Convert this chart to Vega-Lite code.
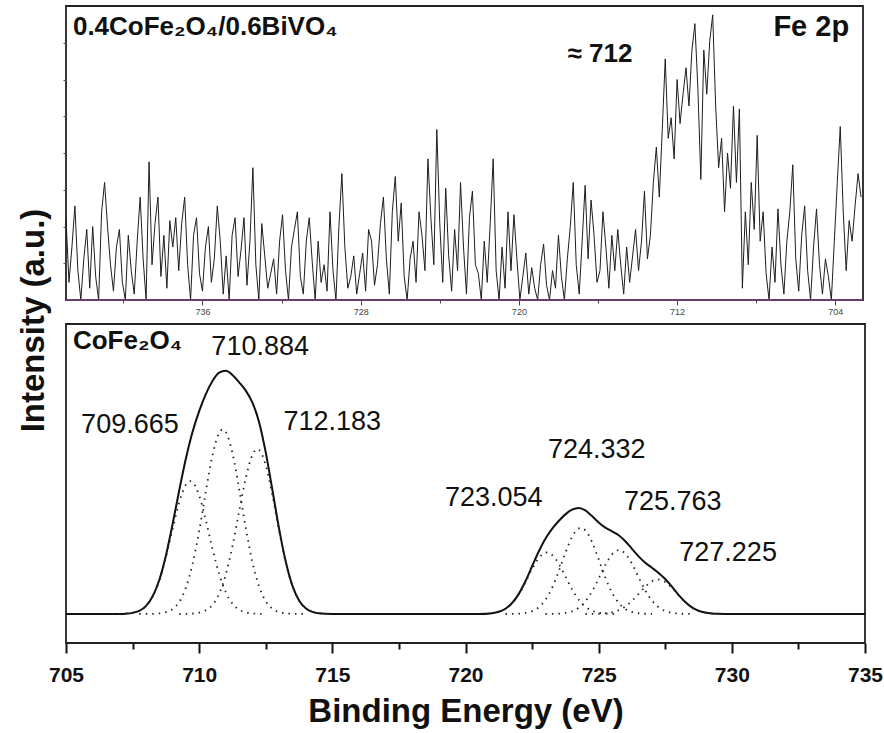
{
 "$schema": "https://vega.github.io/schema/vega-lite/v6.json",
 "background": "white",
 "padding": {"left": 16, "top": 5, "right": 14, "bottom": 4},
 "spacing": 24,
 "bounds": "flush",
 "config": {"font": "Liberation Sans", "view": {"stroke": "#222", "strokeWidth": 1.8}, "axis": {"grid": false}},
 "datasets": {
  "raw": [
   {"e":742.9,"v":28},{"e":742.75,"v":6},{"e":742.6,"v":18},{"e":742.45,"v":32},{"e":742.3,"v":10},{"e":742.15,"v":0},{"e":742.0,"v":14},{"e":741.85,"v":24},{"e":741.7,"v":4},{"e":741.55,"v":25},
   {"e":741.4,"v":8},{"e":741.25,"v":0},{"e":741.1,"v":30},{"e":740.95,"v":40},{"e":740.8,"v":25},{"e":740.65,"v":12},{"e":740.5,"v":3},{"e":740.35,"v":18},{"e":740.2,"v":24},{"e":740.05,"v":6},
   {"e":739.9,"v":0},{"e":739.75,"v":22},{"e":739.6,"v":10},{"e":739.45,"v":2},{"e":739.3,"v":20},{"e":739.15,"v":35},{"e":739.0,"v":14},{"e":738.85,"v":0},{"e":738.7,"v":47},{"e":738.55,"v":12},
   {"e":738.4,"v":26},{"e":738.25,"v":35},{"e":738.1,"v":8},{"e":737.95,"v":22},{"e":737.8,"v":4},{"e":737.65,"v":27},{"e":737.5,"v":18},{"e":737.35,"v":28},{"e":737.2,"v":10},{"e":737.05,"v":26},
   {"e":736.9,"v":35},{"e":736.75,"v":12},{"e":736.6,"v":0},{"e":736.45,"v":22},{"e":736.3,"v":28},{"e":736.15,"v":9},{"e":736.0,"v":3},{"e":735.85,"v":18},{"e":735.7,"v":25},{"e":735.55,"v":6},
   {"e":735.4,"v":14},{"e":735.25,"v":32},{"e":735.1,"v":20},{"e":734.95,"v":2},{"e":734.8,"v":15},{"e":734.65,"v":0},{"e":734.5,"v":22},{"e":734.35,"v":28},{"e":734.2,"v":8},{"e":734.05,"v":17},
   {"e":733.9,"v":28},{"e":733.75,"v":5},{"e":733.6,"v":20},{"e":733.45,"v":45},{"e":733.3,"v":12},{"e":733.15,"v":0},{"e":733.0,"v":26},{"e":732.85,"v":15},{"e":732.7,"v":4},{"e":732.55,"v":9},
   {"e":732.4,"v":14},{"e":732.25,"v":2},{"e":732.1,"v":20},{"e":731.95,"v":29},{"e":731.8,"v":10},{"e":731.65,"v":0},{"e":731.5,"v":18},{"e":731.35,"v":24},{"e":731.2,"v":30},{"e":731.05,"v":8},
   {"e":730.9,"v":2},{"e":730.75,"v":20},{"e":730.6,"v":28},{"e":730.45,"v":13},{"e":730.3,"v":0},{"e":730.15,"v":20},{"e":730.0,"v":6},{"e":729.85,"v":12},{"e":729.7,"v":3},{"e":729.55,"v":30},
   {"e":729.4,"v":10},{"e":729.25,"v":0},{"e":729.1,"v":25},{"e":728.95,"v":43},{"e":728.8,"v":18},{"e":728.65,"v":4},{"e":728.5,"v":8},{"e":728.35,"v":15},{"e":728.2,"v":2},{"e":728.05,"v":9},
   {"e":727.9,"v":16},{"e":727.75,"v":3},{"e":727.6,"v":24},{"e":727.45,"v":20},{"e":727.3,"v":5},{"e":727.15,"v":12},{"e":727.0,"v":26},{"e":726.85,"v":35},{"e":726.7,"v":14},{"e":726.55,"v":2},
   {"e":726.4,"v":30},{"e":726.25,"v":42},{"e":726.1,"v":20},{"e":725.95,"v":33},{"e":725.8,"v":8},{"e":725.65,"v":0},{"e":725.5,"v":14},{"e":725.35,"v":20},{"e":725.2,"v":6},{"e":725.05,"v":30},
   {"e":724.9,"v":22},{"e":724.75,"v":10},{"e":724.6,"v":48},{"e":724.45,"v":28},{"e":724.3,"v":12},{"e":724.15,"v":58},{"e":724.0,"v":26},{"e":723.85,"v":6},{"e":723.7,"v":38},{"e":723.55,"v":15},
   {"e":723.4,"v":3},{"e":723.25,"v":24},{"e":723.1,"v":10},{"e":722.95,"v":40},{"e":722.8,"v":18},{"e":722.65,"v":2},{"e":722.5,"v":28},{"e":722.35,"v":37},{"e":722.2,"v":12},{"e":722.05,"v":9},
   {"e":721.9,"v":0},{"e":721.75,"v":20},{"e":721.6,"v":6},{"e":721.45,"v":26},{"e":721.3,"v":48},{"e":721.15,"v":10},{"e":721.0,"v":0},{"e":720.85,"v":18},{"e":720.7,"v":4},{"e":720.55,"v":30},
   {"e":720.4,"v":10},{"e":720.25,"v":29},{"e":720.1,"v":14},{"e":719.95,"v":0},{"e":719.8,"v":8},{"e":719.65,"v":16},{"e":719.5,"v":2},{"e":719.35,"v":11},{"e":719.2,"v":4},{"e":719.05,"v":0},
   {"e":718.9,"v":12},{"e":718.75,"v":19},{"e":718.6,"v":5},{"e":718.45,"v":0},{"e":718.3,"v":10},{"e":718.15,"v":4},{"e":718.0,"v":22},{"e":717.85,"v":8},{"e":717.7,"v":0},{"e":717.55,"v":14},
   {"e":717.4,"v":25},{"e":717.25,"v":40},{"e":717.1,"v":12},{"e":716.95,"v":2},{"e":716.8,"v":20},{"e":716.65,"v":39},{"e":716.5,"v":14},{"e":716.35,"v":34},{"e":716.2,"v":22},{"e":716.05,"v":6},
   {"e":715.9,"v":10},{"e":715.75,"v":30},{"e":715.6,"v":18},{"e":715.45,"v":4},{"e":715.3,"v":22},{"e":715.15,"v":10},{"e":715.0,"v":24},{"e":714.85,"v":12},{"e":714.7,"v":2},{"e":714.55,"v":18},
   {"e":714.4,"v":6},{"e":714.25,"v":15},{"e":714.1,"v":24},{"e":713.95,"v":10},{"e":713.8,"v":20},{"e":713.65,"v":37},{"e":713.5,"v":14},{"e":713.35,"v":22},{"e":713.2,"v":40},{"e":713.05,"v":52},
   {"e":712.9,"v":35},{"e":712.75,"v":58},{"e":712.6,"v":82},{"e":712.45,"v":55},{"e":712.3,"v":62},{"e":712.15,"v":48},{"e":712.0,"v":75},{"e":711.85,"v":60},{"e":711.7,"v":70},{"e":711.55,"v":79},
   {"e":711.4,"v":66},{"e":711.25,"v":85},{"e":711.1,"v":94},{"e":710.95,"v":72},{"e":710.8,"v":41},{"e":710.65,"v":85},{"e":710.5,"v":70},{"e":710.35,"v":88},{"e":710.2,"v":97},{"e":710.05,"v":66},
   {"e":709.9,"v":45},{"e":709.75,"v":55},{"e":709.6,"v":30},{"e":709.45,"v":50},{"e":709.3,"v":38},{"e":709.15,"v":66},{"e":709.0,"v":40},{"e":708.85,"v":65},{"e":708.7,"v":4},{"e":708.55,"v":30},
   {"e":708.4,"v":12},{"e":708.25,"v":40},{"e":708.1,"v":24},{"e":707.95,"v":56},{"e":707.8,"v":20},{"e":707.65,"v":30},{"e":707.5,"v":9},{"e":707.35,"v":0},{"e":707.2,"v":18},{"e":707.05,"v":6},
   {"e":706.9,"v":31},{"e":706.75,"v":12},{"e":706.6,"v":2},{"e":706.45,"v":20},{"e":706.3,"v":30},{"e":706.15,"v":46},{"e":706.0,"v":14},{"e":705.85,"v":3},{"e":705.7,"v":22},{"e":705.55,"v":32},
   {"e":705.4,"v":10},{"e":705.25,"v":0},{"e":705.1,"v":18},{"e":704.95,"v":31},{"e":704.8,"v":12},{"e":704.65,"v":2},{"e":704.5,"v":14},{"e":704.35,"v":8},{"e":704.2,"v":0},{"e":704.05,"v":20},
   {"e":703.9,"v":40},{"e":703.75,"v":59},{"e":703.6,"v":30},{"e":703.45,"v":10},{"e":703.3,"v":27},{"e":703.15,"v":20},{"e":703.0,"v":32},{"e":702.85,"v":43},{"e":702.7,"v":35}
  ],
  "base": [{"e":702.6,"v":0},{"e":742.9,"v":0}],
  "env": [
   {"e":705,"v":0},{"e":706,"v":0},{"e":707,"v":0.04},{"e":707.25,"v":0.14},{"e":707.5,"v":0.45},{"e":707.75,"v":1.28},{"e":708,"v":3.2},{"e":708.25,"v":7.1},{"e":708.5,"v":13.7},{"e":708.75,"v":23.7},
   {"e":709,"v":36.4},{"e":709.25,"v":50.2},{"e":709.5,"v":63.1},{"e":709.75,"v":74.0},{"e":710,"v":82.5},{"e":710.25,"v":89.4},{"e":710.5,"v":94.7},{"e":710.75,"v":98.1},{"e":711,"v":98.9},{"e":711.25,"v":97.2},
   {"e":711.5,"v":94.2},{"e":711.75,"v":90.8},{"e":712,"v":85.9},{"e":712.25,"v":78.0},{"e":712.5,"v":65.7},{"e":712.75,"v":50.4},{"e":713,"v":34.7},{"e":713.25,"v":21.3},{"e":713.5,"v":11.5},{"e":713.75,"v":5.5},
   {"e":714,"v":2.3},{"e":714.25,"v":0.86},{"e":714.5,"v":0.28},{"e":714.75,"v":0.08},{"e":715,"v":0.02},{"e":716,"v":0},{"e":718,"v":0},{"e":720,"v":0},{"e":720.5,"v":0},
   {"e":721,"v":0.34},{"e":721.25,"v":0.9},{"e":721.5,"v":2.14},{"e":721.75,"v":4.45},{"e":722,"v":8.18},{"e":722.25,"v":13.3},{"e":722.5,"v":19.4},{"e":722.75,"v":25.4},{"e":723,"v":30.6},{"e":723.25,"v":34.6},
   {"e":723.5,"v":37.8},{"e":723.75,"v":40.5},{"e":724,"v":42.4},{"e":724.25,"v":43.1},{"e":724.5,"v":42.1},{"e":724.75,"v":39.8},{"e":725,"v":37.2},{"e":725.25,"v":35.1},{"e":725.5,"v":33.6},{"e":725.75,"v":32.0},
   {"e":726,"v":29.6},{"e":726.25,"v":26.5},{"e":726.5,"v":23.4},{"e":726.75,"v":20.8},{"e":727,"v":18.8},{"e":727.25,"v":16.7},{"e":727.5,"v":14.2},{"e":727.75,"v":11.1},{"e":728,"v":7.75},{"e":728.25,"v":4.84},
   {"e":728.5,"v":2.67},{"e":728.75,"v":1.3},{"e":729,"v":0.56},{"e":729.25,"v":0.21},{"e":729.5,"v":0.07},{"e":729.75,"v":0.02},{"e":730,"v":0},{"e":732,"v":0},{"e":735,"v":0}
  ],
  "comp": [
   {"c":"A1","e":706.75,"v":0},{"c":"A1","e":707,"v":0.04},{"c":"A1","e":707.25,"v":0.14},{"c":"A1","e":707.5,"v":0.45},{"c":"A1","e":707.75,"v":1.28},{"c":"A1","e":708,"v":3.19},{"c":"A1","e":708.25,"v":7.0},{"c":"A1","e":708.5,"v":13.5},{"c":"A1","e":708.75,"v":23.0},{"c":"A1","e":709,"v":34.4},{"c":"A1","e":709.25,"v":45.3},{"c":"A1","e":709.5,"v":52.5},{"c":"A1","e":709.665,"v":54},{"c":"A1","e":709.75,"v":53.6},{"c":"A1","e":710,"v":48.2},{"c":"A1","e":710.25,"v":38.1},{"c":"A1","e":710.5,"v":26.5},{"c":"A1","e":710.75,"v":16.3},{"c":"A1","e":711,"v":8.8},{"c":"A1","e":711.25,"v":4.2},{"c":"A1","e":711.5,"v":1.74},{"c":"A1","e":711.75,"v":0.64},{"c":"A1","e":712,"v":0.21},{"c":"A1","e":712.25,"v":0.06},{"c":"A1","e":712.5,"v":0},
   {"c":"A2","e":707.75,"v":0},{"c":"A2","e":708,"v":0.02},{"c":"A2","e":708.25,"v":0.06},{"c":"A2","e":708.5,"v":0.23},{"c":"A2","e":708.75,"v":0.72},{"c":"A2","e":709,"v":2.0},{"c":"A2","e":709.25,"v":4.9},{"c":"A2","e":709.5,"v":10.6},{"c":"A2","e":709.75,"v":20.2},{"c":"A2","e":710,"v":33.8},{"c":"A2","e":710.25,"v":49.8},{"c":"A2","e":710.5,"v":64.5},{"c":"A2","e":710.75,"v":73.6},{"c":"A2","e":710.884,"v":75},{"c":"A2","e":711,"v":74.0},{"c":"A2","e":711.25,"v":65.4},{"c":"A2","e":711.5,"v":50.9},{"c":"A2","e":711.75,"v":34.9},{"c":"A2","e":712,"v":21.0},{"c":"A2","e":712.25,"v":11.2},{"c":"A2","e":712.5,"v":5.2},{"c":"A2","e":712.75,"v":2.1},{"c":"A2","e":713,"v":0.78},{"c":"A2","e":713.25,"v":0.25},{"c":"A2","e":713.5,"v":0.07},{"c":"A2","e":714,"v":0},
   {"c":"A3","e":709.25,"v":0},{"c":"A3","e":709.5,"v":0.04},{"c":"A3","e":709.75,"v":0.16},{"c":"A3","e":710,"v":0.52},{"c":"A3","e":710.25,"v":1.48},{"c":"A3","e":710.5,"v":3.7},{"c":"A3","e":710.75,"v":8.2},{"c":"A3","e":711,"v":16.1},{"c":"A3","e":711.25,"v":27.6},{"c":"A3","e":711.5,"v":41.6},{"c":"A3","e":711.75,"v":55.3},{"c":"A3","e":712,"v":64.7},{"c":"A3","e":712.183,"v":67},{"c":"A3","e":712.25,"v":66.7},{"c":"A3","e":712.5,"v":60.5},{"c":"A3","e":712.75,"v":48.3},{"c":"A3","e":713,"v":33.9},{"c":"A3","e":713.25,"v":21.0},{"c":"A3","e":713.5,"v":11.4},{"c":"A3","e":713.75,"v":5.5},{"c":"A3","e":714,"v":2.3},{"c":"A3","e":714.25,"v":0.86},{"c":"A3","e":714.5,"v":0.28},{"c":"A3","e":714.75,"v":0.08},{"c":"A3","e":715,"v":0},
   {"c":"B1","e":720.75,"v":0},{"c":"B1","e":721,"v":0.34},{"c":"B1","e":721.25,"v":0.9},{"c":"B1","e":721.5,"v":2.13},{"c":"B1","e":721.75,"v":4.41},{"c":"B1","e":722,"v":8.04},{"c":"B1","e":722.25,"v":12.9},{"c":"B1","e":722.5,"v":18.3},{"c":"B1","e":722.75,"v":22.7},{"c":"B1","e":723,"v":24.9},{"c":"B1","e":723.054,"v":25},{"c":"B1","e":723.25,"v":24.0},{"c":"B1","e":723.5,"v":20.4},{"c":"B1","e":723.75,"v":15.3},{"c":"B1","e":724,"v":10.0},{"c":"B1","e":724.25,"v":5.8},{"c":"B1","e":724.5,"v":2.96},{"c":"B1","e":724.75,"v":1.33},{"c":"B1","e":725,"v":0.52},{"c":"B1","e":725.25,"v":0.18},{"c":"B1","e":725.5,"v":0.06},{"c":"B1","e":725.75,"v":0},
   {"c":"B2","e":721.5,"v":0},{"c":"B2","e":721.75,"v":0.04},{"c":"B2","e":722,"v":0.14},{"c":"B2","e":722.25,"v":0.42},{"c":"B2","e":722.5,"v":1.14},{"c":"B2","e":722.75,"v":2.72},{"c":"B2","e":723,"v":5.73},{"c":"B2","e":723.25,"v":10.6},{"c":"B2","e":723.5,"v":17.3},{"c":"B2","e":723.75,"v":24.8},{"c":"B2","e":724,"v":31.3},{"c":"B2","e":724.25,"v":34.8},{"c":"B2","e":724.332,"v":35},{"c":"B2","e":724.5,"v":34.0},{"c":"B2","e":724.75,"v":29.3},{"c":"B2","e":725,"v":22.2},{"c":"B2","e":725.25,"v":14.8},{"c":"B2","e":725.5,"v":8.7},{"c":"B2","e":725.75,"v":4.5},{"c":"B2","e":726,"v":2.05},{"c":"B2","e":726.25,"v":0.82},{"c":"B2","e":726.5,"v":0.29},{"c":"B2","e":726.75,"v":0.09},{"c":"B2","e":727,"v":0},
   {"c":"B3","e":723,"v":0},{"c":"B3","e":723.25,"v":0.04},{"c":"B3","e":723.5,"v":0.14},{"c":"B3","e":723.75,"v":0.42},{"c":"B3","e":724,"v":1.09},{"c":"B3","e":724.25,"v":2.51},{"c":"B3","e":724.5,"v":5.11},{"c":"B3","e":724.75,"v":9.13},{"c":"B3","e":725,"v":14.4},{"c":"B3","e":725.25,"v":19.9},{"c":"B3","e":725.5,"v":24.2},{"c":"B3","e":725.763,"v":26},{"c":"B3","e":726,"v":24.5},{"c":"B3","e":726.25,"v":20.4},{"c":"B3","e":726.5,"v":14.9},{"c":"B3","e":726.75,"v":9.62},{"c":"B3","e":727,"v":5.46},{"c":"B3","e":727.25,"v":2.72},{"c":"B3","e":727.5,"v":1.2},{"c":"B3","e":727.75,"v":0.46},{"c":"B3","e":728,"v":0.16},{"c":"B3","e":728.25,"v":0.05},{"c":"B3","e":728.5,"v":0},
   {"c":"B4","e":724.5,"v":0},{"c":"B4","e":724.75,"v":0.03},{"c":"B4","e":725,"v":0.09},{"c":"B4","e":725.25,"v":0.26},{"c":"B4","e":725.5,"v":0.67},{"c":"B4","e":725.75,"v":1.52},{"c":"B4","e":726,"v":3.03},{"c":"B4","e":726.25,"v":5.31},{"c":"B4","e":726.5,"v":8.19},{"c":"B4","e":726.75,"v":11.1},{"c":"B4","e":727,"v":13.3},{"c":"B4","e":727.225,"v":14},{"c":"B4","e":727.5,"v":13.0},{"c":"B4","e":727.75,"v":10.6},{"c":"B4","e":728,"v":7.59},{"c":"B4","e":728.25,"v":4.79},{"c":"B4","e":728.5,"v":2.66},{"c":"B4","e":728.75,"v":1.3},{"c":"B4","e":729,"v":0.56},{"c":"B4","e":729.25,"v":0.21},{"c":"B4","e":729.5,"v":0.07},{"c":"B4","e":729.75,"v":0}
  ],
  "toptext": [
   {"t":"0.4CoFe₂O₄/0.6BiVO₄","e":742.55,"v":93},
   {"t":"Fe 2p","e":703.3,"v":93},
   {"t":"≈ 712","e":715.9,"v":83.7}
  ],
  "bottext": [
   {"t":"710.884","e":712.29,"v":108.5},
   {"t":"709.665","e":707.4,"v":76.8},
   {"t":"712.183","e":715.0,"v":78},
   {"t":"724.332","e":724.93,"v":66.7},
   {"t":"723.054","e":721.06,"v":47.2},
   {"t":"725.763","e":727.78,"v":45.5},
   {"t":"727.225","e":729.86,"v":24.8}
  ],
  "botlabel": [
   {"t":"CoFe₂O₄","e":705.26,"v":111}
  ]
 },
 "vconcat": [
  {
   "width": 797,
   "height": 294,
   "encoding": {
    "x": {"field": "e", "type": "quantitative", "scale": {"domain": [702.6, 742.9], "reverse": true, "nice": false, "zero": false},
          "axis": {"orient": "bottom", "values": [740, 736, 732, 728, 724, 720, 716, 712, 708, 704], "format": "d", "labelExpr": "datum.value % 8 == 0 ? datum.label : ''", "title": null, "domain": false, "tickSize": {"condition": {"test": "datum.value % 8 == 0", "value": 5}, "value": 3}, "tickColor": "#444", "labelFontSize": 9, "labelColor": "#444", "labelPadding": 2}},
    "y": {"field": "v", "type": "quantitative", "scale": {"domain": [0, 100], "nice": false, "zero": false},
          "axis": {"values": [12.5, 25, 37.5, 50, 62.5, 75, 87.5], "labels": false, "title": null, "domain": false, "tickSize": 3, "tickColor": "#555"}}
   },
   "layer": [
    {
     "data": {"name": "raw"},
     "mark": {"type": "line", "stroke": "#1e1e1e", "strokeWidth": 1}
    },
    {
     "data": {"name": "base"},
     "mark": {"type": "line", "stroke": "#6e3a72", "strokeWidth": 2}
    },
    {
     "data": {"name": "toptext"},
     "transform": [{"filter": "datum.t == '0.4CoFe₂O₄/0.6BiVO₄'"}],
     "mark": {"type": "text", "align": "left", "baseline": "middle", "fontSize": 26, "fontWeight": "bold", "color": "#111"},
     "encoding": {"text": {"field": "t"}}
    },
    {
     "data": {"name": "toptext"},
     "transform": [{"filter": "datum.t == 'Fe 2p'"}],
     "mark": {"type": "text", "align": "right", "baseline": "middle", "fontSize": 29, "fontWeight": "bold", "color": "#111"},
     "encoding": {"text": {"field": "t"}}
    },
    {
     "data": {"name": "toptext"},
     "transform": [{"filter": "datum.t == '≈ 712'"}],
     "mark": {"type": "text", "align": "center", "baseline": "middle", "fontSize": 26, "fontWeight": "bold", "color": "#111"},
     "encoding": {"text": {"field": "t"}}
    }
   ]
  },
  {
   "width": 799,
   "height": 319,
   "encoding": {
    "x": {"field": "e", "type": "quantitative", "scale": {"domain": [705, 735], "nice": false, "zero": false},
          "axis": {"orient": "bottom", "values": [705, 707.5, 710, 712.5, 715, 717.5, 720, 722.5, 725, 727.5, 730, 732.5, 735], "format": "d", "labelExpr": "datum.value % 5 == 0 ? datum.label : ''", "title": "Binding Energy (eV)", "titleFontSize": 33, "titleFontWeight": "bold", "titleColor": "#111", "titlePadding": 10, "domain": false, "tickSize": {"condition": {"test": "datum.value % 5 == 0", "value": 10}, "value": 6}, "tickWidth": 2, "tickColor": "#111", "labelFontSize": 21, "labelFontWeight": "bold", "labelColor": "#111", "labelPadding": 11, "labelFlush": false}},
    "y": {"field": "v", "type": "quantitative", "scale": {"domain": [-11.8, 117.9], "nice": false, "zero": false},
          "axis": {"labels": false, "ticks": false, "domain": false, "title": "Intensity (a.u.)", "titleFontSize": 33, "titleFontWeight": "bold", "titleColor": "#111", "titleY": -4, "titlePadding": 16}}
   },
   "layer": [
    {
     "data": {"name": "env"},
     "mark": {"type": "line", "stroke": "#111", "strokeWidth": 2, "interpolate": "monotone"}
    },
    {
     "data": {"name": "comp"},
     "mark": {"type": "line", "stroke": "#222", "strokeWidth": 1.8, "strokeDash": [1.5, 5], "interpolate": "monotone"},
     "encoding": {"detail": {"field": "c"}}
    },
    {
     "data": {"name": "bottext"},
     "mark": {"type": "text", "align": "center", "baseline": "middle", "fontSize": 27, "color": "#111"},
     "encoding": {"text": {"field": "t"}}
    },
    {
     "data": {"name": "botlabel"},
     "mark": {"type": "text", "align": "left", "baseline": "middle", "fontSize": 26, "fontWeight": "bold", "color": "#111"},
     "encoding": {"text": {"field": "t"}}
    }
   ]
  }
 ]
}
